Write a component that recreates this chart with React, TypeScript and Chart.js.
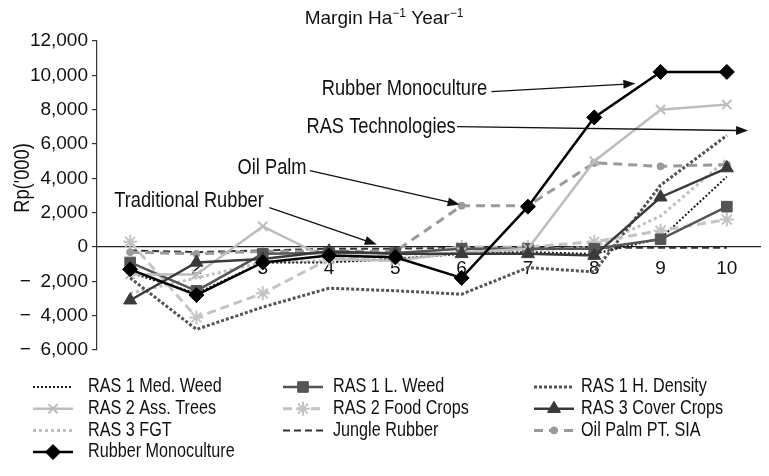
import React, { useEffect, useRef } from 'react';
import { Chart, registerables } from 'chart.js';
import { drawPoint } from 'chart.js/helpers';

Chart.register(...registerables);

// ---------- data ----------
const categories = ['1', '2', '3', '4', '5', '6', '7', '8', '9', '10'];
const yMin = -6000;
const yMax = 12000;
const yStep = 2000;

const rasMedWeed = [-1500, -2700, -900, -900, -700, -400, -300, -400, 500, 4100];
const rasLWeed = [-900, -2550, -400, -350, -350, -100, -100, -100, 450, 2350];
const rasHDensity = [-1800, -4800, -3500, -2400, -2550, -2750, -1200, -1450, 3600, 6500];
const rasAssTrees = [-1600, -1600, 1200, -700, -800, -300, -100, 5000, 8000, 8300];
const rasFoodCrops = [300, -4100, -2700, -700, -500, 0, 0, 300, 950, 1600];
const rasCoverCrops = [-3100, -900, -700, -250, -400, -400, -400, -500, 2900, 4600];
const rasFGT = [-2700, -1800, -900, -800, -700, -300, -200, 0, 1800, 5100];
const jungleRubber = [-200, -300, -200, -100, -100, -50, -50, -50, -50, -50];
const oilPalm = [-300, -400, -250, -250, -250, 2400, 2400, 4900, 4700, 4800];
const rubberMono = [-1300, -2800, -900, -500, -600, -1800, 2350, 7550, 10200, 10200];

const seriesNames = [
  'RAS 1 Med. Weed', 'RAS 1 L. Weed', 'RAS 1 H. Density',
  'RAS 2 Ass. Trees', 'RAS 2 Food Crops', 'RAS 3 Cover Crops',
  'RAS 3 FGT', 'Jungle Rubber', 'Oil Palm PT. SIA',
  'Rubber Monoculture',
];

const annotationTexts = ['Rubber Monoculture', 'RAS Technologies', 'Oil Palm', 'Traditional Rubber'];
// [textX(category index), textY(value), fromX, fromY, toX, toY]
const annotationPositions = [
  [2.89, 9230, 5.45, 9050, 7.62, 9520],
  [2.66, 7010, 4.93, 7010, 9.32, 6780],
  [1.62, 4630, 2.71, 4450, 4.97, 2470],
  [-0.24, 2710, 2.10, 2300, 3.72, 150],
];

const REG = "'Liberation Sans', Arial, Helvetica, sans-serif";
const NARROW_SCALE = 0.83;

type Style = {
  color: string; width: number; dash: number[]; point: any; radius: number; order: number; pointBorder?: number;
};

const styles: Style[] = [
  { color: '#1a1a1a', width: 2, dash: [2, 2], point: false, radius: 0, order: 6 },
  { color: '#555555', width: 2.5, dash: [], point: 'rect', radius: 7.5, order: 3 },
  { color: '#555555', width: 3, dash: [3, 2], point: false, radius: 0, order: 7 },
  { color: '#bdbdbd', width: 2.5, dash: [], point: 'crossRot', radius: 6.5, order: 2, pointBorder: 2 },
  { color: '#c4c4c4', width: 3, dash: [9, 5], point: 'star', radius: 7, order: 5, pointBorder: 2 },
  { color: '#3a3a3a', width: 2.5, dash: [], point: 'triangle', radius: 7.5, order: 1 },
  { color: '#c0c0c0', width: 3, dash: [3, 3], point: false, radius: 0, order: 8 },
  { color: '#333333', width: 2, dash: [7, 4], point: false, radius: 0, order: 9 },
  { color: '#9a9a9a', width: 3, dash: [9, 6], point: 'circle', radius: 3.5, order: 4 },
  { color: '#000000', width: 2.5, dash: [], point: 'rectRot', radius: 7.5, order: 0 },
];

const seriesData = [
  rasMedWeed, rasLWeed, rasHDensity, rasAssTrees, rasFoodCrops,
  rasCoverCrops, rasFGT, jungleRubber, oilPalm, rubberMono,
];

function fmt(v: number) {
  const s = Math.abs(v).toLocaleString('en-US');
  return v < 0 ? '\u2212\u2002' + s : s;
}

function narrowText(ctx: CanvasRenderingContext2D, txt: string, x: number, y: number, size: number, align: CanvasTextAlign = 'left') {
  ctx.save();
  ctx.translate(x, y);
  ctx.scale(NARROW_SCALE, 1);
  ctx.font = `${size}px ${REG}`;
  ctx.textAlign = align;
  ctx.textBaseline = 'middle';
  ctx.fillText(txt, 0, 0);
  ctx.restore();
}

const decorPlugin = {
  id: 'decor',
  afterDraw(chart: any) {
    const ctx: CanvasRenderingContext2D = chart.ctx;
    const xs = chart.scales.x;
    const ys = chart.scales.y;
    ctx.save();

    // title
    const t1 = 'Margin Ha';
    const sup = '\u22121';
    const t2 = ' Year';
    ctx.fillStyle = '#111';
    ctx.textBaseline = 'alphabetic';
    const mainFont = `19px ${REG}`;
    const supFont = `12px ${REG}`;
    ctx.font = mainFont;
    const w1 = ctx.measureText(t1).width;
    const w2 = ctx.measureText(t2).width;
    ctx.font = supFont;
    const ws = ctx.measureText(sup).width;
    const total = w1 + ws + w2 + ws;
    let x = 384 - total / 2;
    const base = 24;
    ctx.textAlign = 'left';
    ctx.font = mainFont; ctx.fillText(t1, x, base); x += w1;
    ctx.font = supFont; ctx.fillText(sup, x, base - 7); x += ws;
    ctx.font = mainFont; ctx.fillText(t2, x, base); x += w2;
    ctx.font = supFont; ctx.fillText(sup, x, base - 7);

    // y axis title
    ctx.save();
    ctx.translate(23, 178);
    ctx.rotate(-Math.PI / 2);
    ctx.fillStyle = '#111';
    narrowText(ctx, "Rp('000)", 0, 0, 22, 'center');
    ctx.restore();

    // annotations
    annotationTexts.forEach((txt, i) => {
      const [tx, ty, fx, fy, ex, ey] = annotationPositions[i];
      const px = xs.getPixelForValue(tx);
      const py = ys.getPixelForValue(ty);
      ctx.fillStyle = '#111';
      narrowText(ctx, txt, px, py, 22, 'left');
      const x0 = xs.getPixelForValue(fx), y0 = ys.getPixelForValue(fy);
      const x1 = xs.getPixelForValue(ex), y1 = ys.getPixelForValue(ey);
      ctx.strokeStyle = '#111';
      ctx.lineWidth = 1.3;
      ctx.setLineDash([]);
      const ang = Math.atan2(y1 - y0, x1 - x0);
      const hl = 12, hw = 4.5;
      ctx.beginPath();
      ctx.moveTo(x0, y0);
      ctx.lineTo(x1 - Math.cos(ang) * hl * 0.8, y1 - Math.sin(ang) * hl * 0.8);
      ctx.stroke();
      ctx.beginPath();
      ctx.moveTo(x1, y1);
      ctx.lineTo(x1 - Math.cos(ang) * hl - Math.sin(ang) * hw, y1 - Math.sin(ang) * hl + Math.cos(ang) * hw);
      ctx.lineTo(x1 - Math.cos(ang) * hl + Math.sin(ang) * hw, y1 - Math.sin(ang) * hl - Math.cos(ang) * hw);
      ctx.closePath();
      ctx.fillStyle = '#111';
      ctx.fill();
    });

    // legend
    const sampleX = [33, 283, 534];
    const textX = [88, 333, 581];
    seriesNames.forEach((name, i) => {
      const st = styles[i];
      const col = i % 3;
      const row = Math.floor(i / 3);
      const y = 387 + row * 21.7;
      const sx = sampleX[col];
      ctx.strokeStyle = st.color;
      ctx.lineWidth = st.width;
      ctx.setLineDash(st.dash);
      ctx.beginPath();
      ctx.moveTo(sx, y);
      ctx.lineTo(sx + 40, y);
      ctx.stroke();
      ctx.setLineDash([]);
      if (st.point) {
        ctx.fillStyle = st.color;
        ctx.strokeStyle = st.color;
        ctx.lineWidth = st.pointBorder || 1;
        drawPoint(ctx, { pointStyle: st.point, radius: st.radius, rotation: 0, borderWidth: st.pointBorder || 1 } as any, sx + 20, y);
      }
      ctx.fillStyle = '#111';
      narrowText(ctx, name, textX[col], y, 19.5, 'left');
    });

    ctx.restore();
  },
};

export default function App() {
  const ref = useRef<HTMLCanvasElement | null>(null);
  useEffect(() => {
    if (!ref.current) return;
    const datasets = seriesNames.map((name, i) => {
      const st = styles[i];
      return {
        label: name,
        data: seriesData[i],
        borderColor: st.color,
        backgroundColor: st.color,
        borderWidth: st.width,
        borderDash: st.dash,
        pointStyle: st.point,
        pointRadius: st.point ? st.radius : 0,
        pointBorderWidth: st.pointBorder || 1,
        pointBorderColor: st.color,
        pointBackgroundColor: st.color,
        tension: 0,
        fill: false,
        order: st.order,
      };
    });
    const chart = new Chart(ref.current, {
      type: 'line',
      data: { labels: categories, datasets },
      options: {
        animation: false,
        responsive: false,
        devicePixelRatio: 1,
        layout: { padding: { top: 41, bottom: 126, left: 0, right: 0 } },
        plugins: { legend: { display: false }, tooltip: { enabled: false }, title: { display: false } },
        scales: {
          x: {
            type: 'category',
            offset: true,
            position: { y: 0 } as any,
            grid: { display: false },
            border: { display: true, color: '#222', width: 1.3 },
            ticks: { color: '#111', font: { family: REG, size: 19 }, padding: 2, maxRotation: 0, autoSkip: false },
          },
          y: {
            min: yMin,
            max: yMax,
            grid: { display: true, drawOnChartArea: false, drawTicks: true, tickLength: 5, color: '#333', lineWidth: 1.2 },
            border: { display: true, color: '#333', width: 1.2 },
            ticks: {
              stepSize: yStep,
              color: '#111',
              font: { family: REG, size: 19 },
              padding: 4,
              callback: (v: any) => fmt(Number(v)),
            },
            afterFit: (scale: any) => { scale.width = 97; },
          },
        },
      },
      plugins: [decorPlugin],
    });
    return () => chart.destroy();
  }, []);
  return (
    <div style={{ position: 'absolute', left: 0, top: 0, width: 769, height: 476, background: '#fff' }}>
      <canvas ref={ref} width={769} height={476} style={{ width: 769, height: 476 }} />
    </div>
  );
}
